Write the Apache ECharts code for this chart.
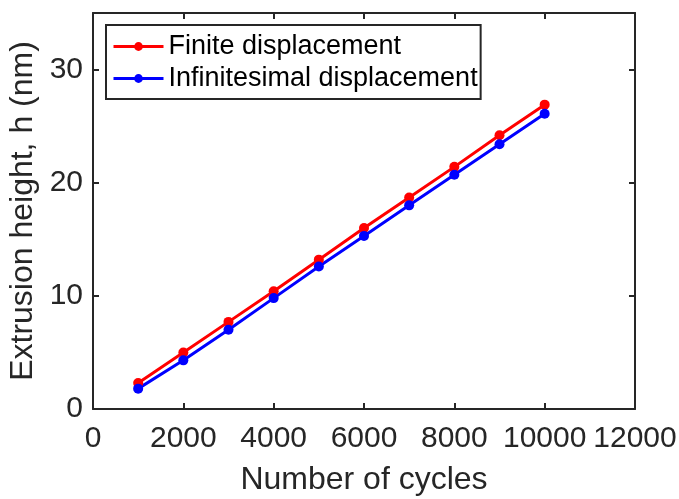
<!DOCTYPE html>
<html>
<head>
<meta charset="utf-8">
<script src="https://cdn.jsdelivr.net/npm/echarts@6/dist/echarts.min.js"></script>
<style>
html,body{margin:0;padding:0;background:#fff;}
#chart{width:679px;height:499px;}
</style>
</head>
<body>
<div id="chart"></div>
<script>
const cycles = [1000, 2000, 3000, 4000, 5000, 6000, 7000, 8000, 9000, 10000];
const finiteDisp = [2.3, 5.0, 7.7, 10.4, 13.2, 16.0, 18.7, 21.4, 24.2, 26.9];
const infinitesimalDisp = [1.8, 4.3, 7.0, 9.8, 12.6, 15.3, 18.0, 20.7, 23.4, 26.1];
const xTicks = [0, 2000, 4000, 6000, 8000, 10000, 12000];
const yTicks = [0, 10, 20, 30];
const seriesNames = ['Finite displacement', 'Infinitesimal displacement'];
const xTitle = 'Number of cycles';
const yTitle = 'Extrusion height, h (nm)';

const AX = '#262626';
const FONT = '"Liberation Sans", Arial, Helvetica, sans-serif';

function pairs(xs, ys) { return xs.map((x, i) => [x, ys[i]]); }

const axisCommon = {
  axisLine: { show: true, onZero: false, lineStyle: { color: AX, width: 2 } },
  axisTick: { show: true, inside: true, length: 6, lineStyle: { color: AX, width: 2 } },
  splitLine: { show: false }
};

const xRange = { min: 0, max: 12000, interval: 2000 };
const yRange = { min: 0, max: 35, interval: 10 };

const chart = echarts.init(document.getElementById('chart'), null, { renderer: 'canvas' });
chart.setOption({
  backgroundColor: '#ffffff',
  animation: false,
  textStyle: { fontFamily: FONT },
  grid: { left: 93, right: 44, top: 13, bottom: 90, containLabel: false, outerBoundsMode: 'none' },
  legend: {
    data: seriesNames,
    orient: 'vertical',
    left: 106,
    top: 25,
    padding: [8, 3, 7, 6],
    itemGap: 5,
    itemWidth: 50,
    itemHeight: 11,
    lineStyle: { width: 3 },
    textStyle: { fontSize: 27, color: '#000', fontFamily: FONT },
    borderColor: AX,
    borderWidth: 2,
    backgroundColor: '#fff'
  },
  xAxis: [
    Object.assign({
      type: 'value', position: 'bottom',
      name: xTitle, nameLocation: 'middle', nameGap: 55,
      nameTextStyle: { fontSize: 32, color: AX, fontFamily: FONT },
      axisLabel: { show: true, fontSize: 30, color: AX, margin: 15, fontFamily: FONT,
        formatter: v => xTicks.includes(v) ? String(v) : '' }
    }, xRange, axisCommon),
    Object.assign({
      type: 'value', position: 'top',
      axisLabel: { show: false }
    }, xRange, axisCommon)
  ],
  yAxis: [
    Object.assign({
      type: 'value', position: 'left',
      name: yTitle, nameLocation: 'middle', nameGap: 52,
      nameTextStyle: { fontSize: 32, color: AX, fontFamily: FONT },
      axisLabel: { show: true, fontSize: 30, color: AX, margin: 10, fontFamily: FONT,
        formatter: v => yTicks.includes(v) ? String(v) : '' }
    }, yRange, axisCommon),
    Object.assign({
      type: 'value', position: 'right',
      axisLabel: { show: false }
    }, yRange, axisCommon)
  ],
  series: [
    {
      name: seriesNames[0], type: 'line', xAxisIndex: 0, yAxisIndex: 0,
      data: pairs(cycles, finiteDisp),
      symbol: 'circle', symbolSize: 10,
      lineStyle: { color: '#ff0000', width: 3 },
      itemStyle: { color: '#ff0000' }
    },
    {
      name: seriesNames[1], type: 'line', xAxisIndex: 0, yAxisIndex: 0,
      data: pairs(cycles, infinitesimalDisp),
      symbol: 'circle', symbolSize: 10,
      lineStyle: { color: '#0000ff', width: 3 },
      itemStyle: { color: '#0000ff' }
    }
  ]
});
</script>
</body>
</html>
